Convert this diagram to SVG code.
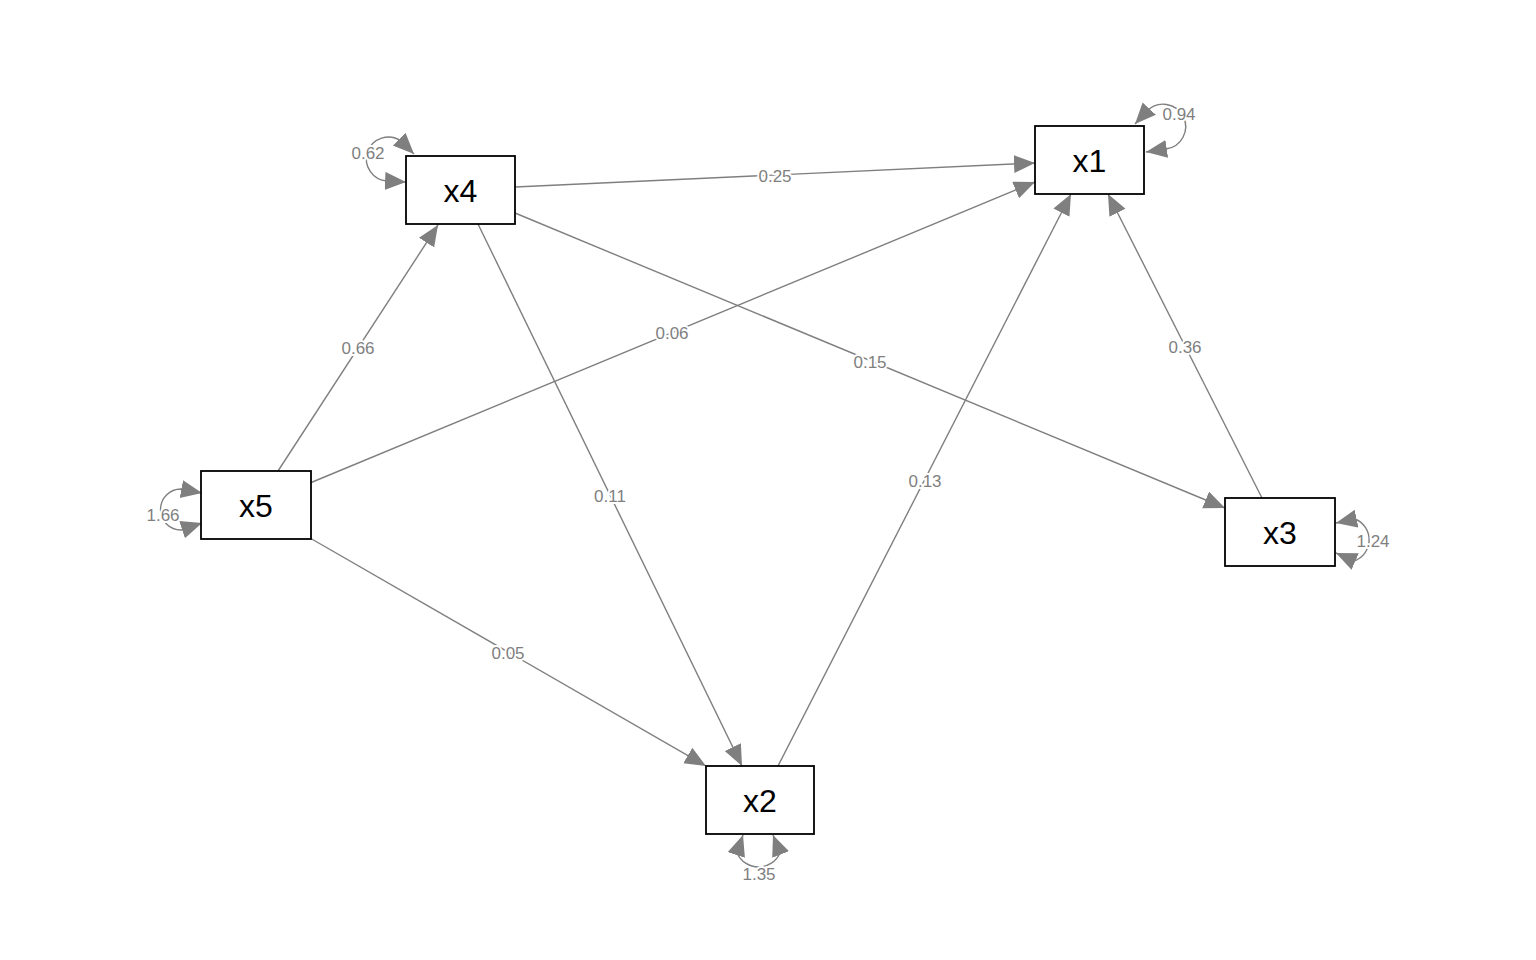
<svg xmlns="http://www.w3.org/2000/svg" width="1536" height="960" viewBox="0 0 1536 960">
<style>
.node rect{fill:#ffffff;stroke:#000000;stroke-width:1.8}
.node text{font-family:"Liberation Sans",Arial,sans-serif;font-size:32px;fill:#000000;text-anchor:middle}
.edge{fill:none;stroke:#7f7f7f;stroke-width:1.4;marker-end:url(#ah)}
.loop{fill:none;stroke:#7f7f7f;stroke-width:1.4;marker-start:url(#ahs);marker-end:url(#ah)}
.lbl{font-family:"Liberation Sans",Arial,sans-serif;font-size:17px;fill:#7f7f7f;text-anchor:middle;stroke:#ffffff;stroke-width:4;paint-order:stroke;stroke-linejoin:round}
</style>
<defs>
<marker id="ah" markerUnits="userSpaceOnUse" markerWidth="23" markerHeight="20" refX="21" refY="9" orient="auto" viewBox="0 0 23 20">
<path d="M0,0 L21,9 L0,18 Z" fill="#7f7f7f"/>
</marker>
<marker id="ahs" markerUnits="userSpaceOnUse" markerWidth="23" markerHeight="20" refX="21" refY="9" orient="auto-start-reverse" viewBox="0 0 23 20">
<path d="M0,0 L21,9 L0,18 Z" fill="#7f7f7f"/>
</marker>
</defs>
<rect width="1536" height="960" fill="#ffffff"/>
<g id="connectors">
<path class="edge" d="M515,187 L1035,163"/>
<path class="edge" d="M310,483 L1035,182"/>
<path class="edge" d="M778,766 L1071,194"/>
<path class="edge" d="M1262,498 L1108,194"/>
<path class="edge" d="M278,471 L438,225"/>
<path class="edge" d="M478,224 L742,766"/>
<path class="edge" d="M515,213 L1225,508"/>
<path class="edge" d="M310,538 L706,766"/>
<path class="loop" d="M414,154 L401,141 A22,22 0 1 0 387,181 L406,182"/>
<path class="loop" d="M1135,124 L1147,111 A22.5,22.5 0 1 1 1166,149 L1146,152"/>
<path class="loop" d="M202,493 L181,489 A20.5,20.5 0 0 0 181,530 L202,523"/>
<path class="loop" d="M1336,523 L1355,519 A22.4,22.4 0 0 1 1354,561 L1336,553"/>
<path class="loop" d="M743,835 L737,853 A23.5,23.5 0 0 0 780,853 L773,835"/>
<text class="lbl" x="775" y="182">0.25</text>
<text class="lbl" x="870" y="368">0.15</text>
<text class="lbl" x="610" y="502">0.11</text>
<text class="lbl" x="358" y="354">0.66</text>
<text class="lbl" x="672" y="339">0.06</text>
<text class="lbl" x="508" y="659">0.05</text>
<text class="lbl" x="925" y="487">0.13</text>
<text class="lbl" x="1185" y="353">0.36</text>
<text class="lbl" x="368" y="159">0.62</text>
<text class="lbl" x="1179" y="120">0.94</text>
<text class="lbl" x="163" y="521">1.66</text>
<text class="lbl" x="1373" y="547">1.24</text>
<text class="lbl" x="759" y="880">1.35</text>
</g>
<g id="x4" class="node"><rect x="406" y="156" width="109" height="68"/><text x="460.5" y="202">x4</text></g>
<g id="x1" class="node"><rect x="1035" y="126" width="109" height="68"/><text x="1089.5" y="172">x1</text></g>
<g id="x5" class="node"><rect x="201" y="471" width="110" height="68"/><text x="256" y="517">x5</text></g>
<g id="x3" class="node"><rect x="1225" y="498" width="110" height="68"/><text x="1280" y="544">x3</text></g>
<g id="x2" class="node"><rect x="706" y="766" width="108" height="68"/><text x="760" y="812">x2</text></g>
</svg>
